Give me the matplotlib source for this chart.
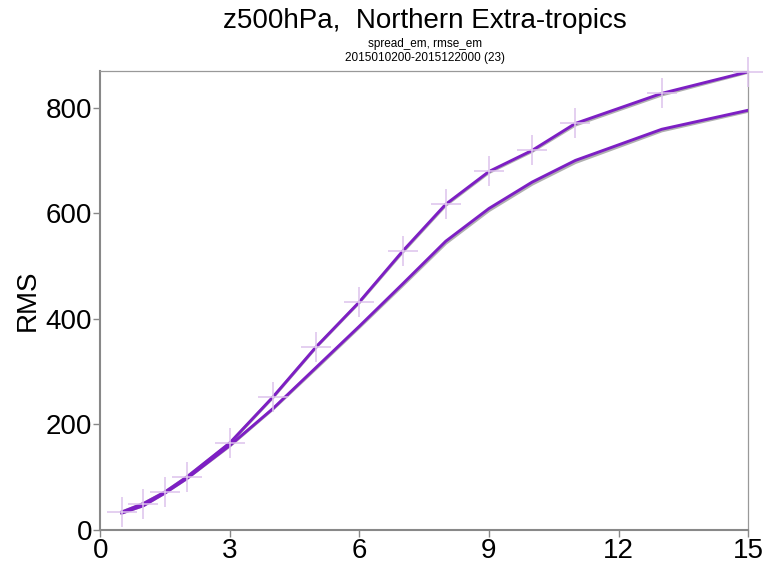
import numpy as np
import matplotlib.pyplot as plt

# === Data (forecast day vs RMS, z500hPa NH extra-tropics) ===
lead_days = [0.5, 1, 1.5, 2, 3, 4, 5, 6, 7, 8, 9, 10, 11, 13, 15]
rmse_em = [34, 50, 72, 100, 165, 252, 347, 432, 528, 617, 679, 719, 770, 827, 868]
spread_em = [32, 46, 70, 97, 160, 230, 308, 386, 466, 547, 609, 659, 700, 759, 795]
# reference run, drawn in grey underneath
rmse_ref = [34, 50, 72, 100, 164, 251, 346, 431, 526, 615, 677, 717, 767, 824, 867]
spread_ref = [32, 46, 70, 97, 159, 229, 306, 384, 463, 543, 605, 655, 696, 756, 793]

purple = "#7d1fc4"
cross = "#dcc2ec"

fig = plt.figure(figsize=(7.65, 5.65), dpi=100)
ax = fig.add_axes([0.131, 0.062, 0.847, 0.812])

ax.plot(lead_days, rmse_ref, color="#b0b0b0", lw=2.2, zorder=2)
ax.plot(lead_days, spread_ref, color="#b0b0b0", lw=2.2, zorder=2)
ax.plot(lead_days, rmse_em, color=purple, lw=2.1, zorder=3)
ax.plot(lead_days, spread_em, color=purple, lw=2.1, zorder=3)
ax.plot(lead_days, rmse_em, ls="none", marker="+", ms=22, mew=1.1,
        color=cross, zorder=4, clip_on=False)

ax.set_xlim(0, 15)
ax.set_ylim(0, 869)
ax.set_xticks([0, 3, 6, 9, 12, 15])
ax.set_yticks([0, 200, 400, 600, 800])

for s in ax.spines.values():
    s.set_color("#999999")
    s.set_linewidth(0.9)
ax.spines["left"].set_linewidth(1.5)
ax.spines["left"].set_color("#888888")
ax.spines["bottom"].set_linewidth(1.5)
ax.spines["bottom"].set_color("#888888")

ax.tick_params(direction="out", length=5, width=1, color="#888888",
               labelsize=20, pad=1)
for lab in ax.get_xticklabels() + ax.get_yticklabels():
    lab.set_family("Liberation Sans")

ax.set_ylabel("RMS", fontsize=20, family="Liberation Sans", labelpad=3)

fig.text(0.555, 0.962, "z500hPa,  Northern Extra-tropics", ha="center",
         va="center", fontsize=20, family="Liberation Sans")
fig.text(0.555, 0.922, "spread_em, rmse_em", ha="center", va="center",
         fontsize=8.5, family="Liberation Sans")
fig.text(0.555, 0.897, "2015010200-2015122000 (23)", ha="center",
         va="center", fontsize=8.5, family="Liberation Sans")

fig.savefig("out.png", dpi=100)
